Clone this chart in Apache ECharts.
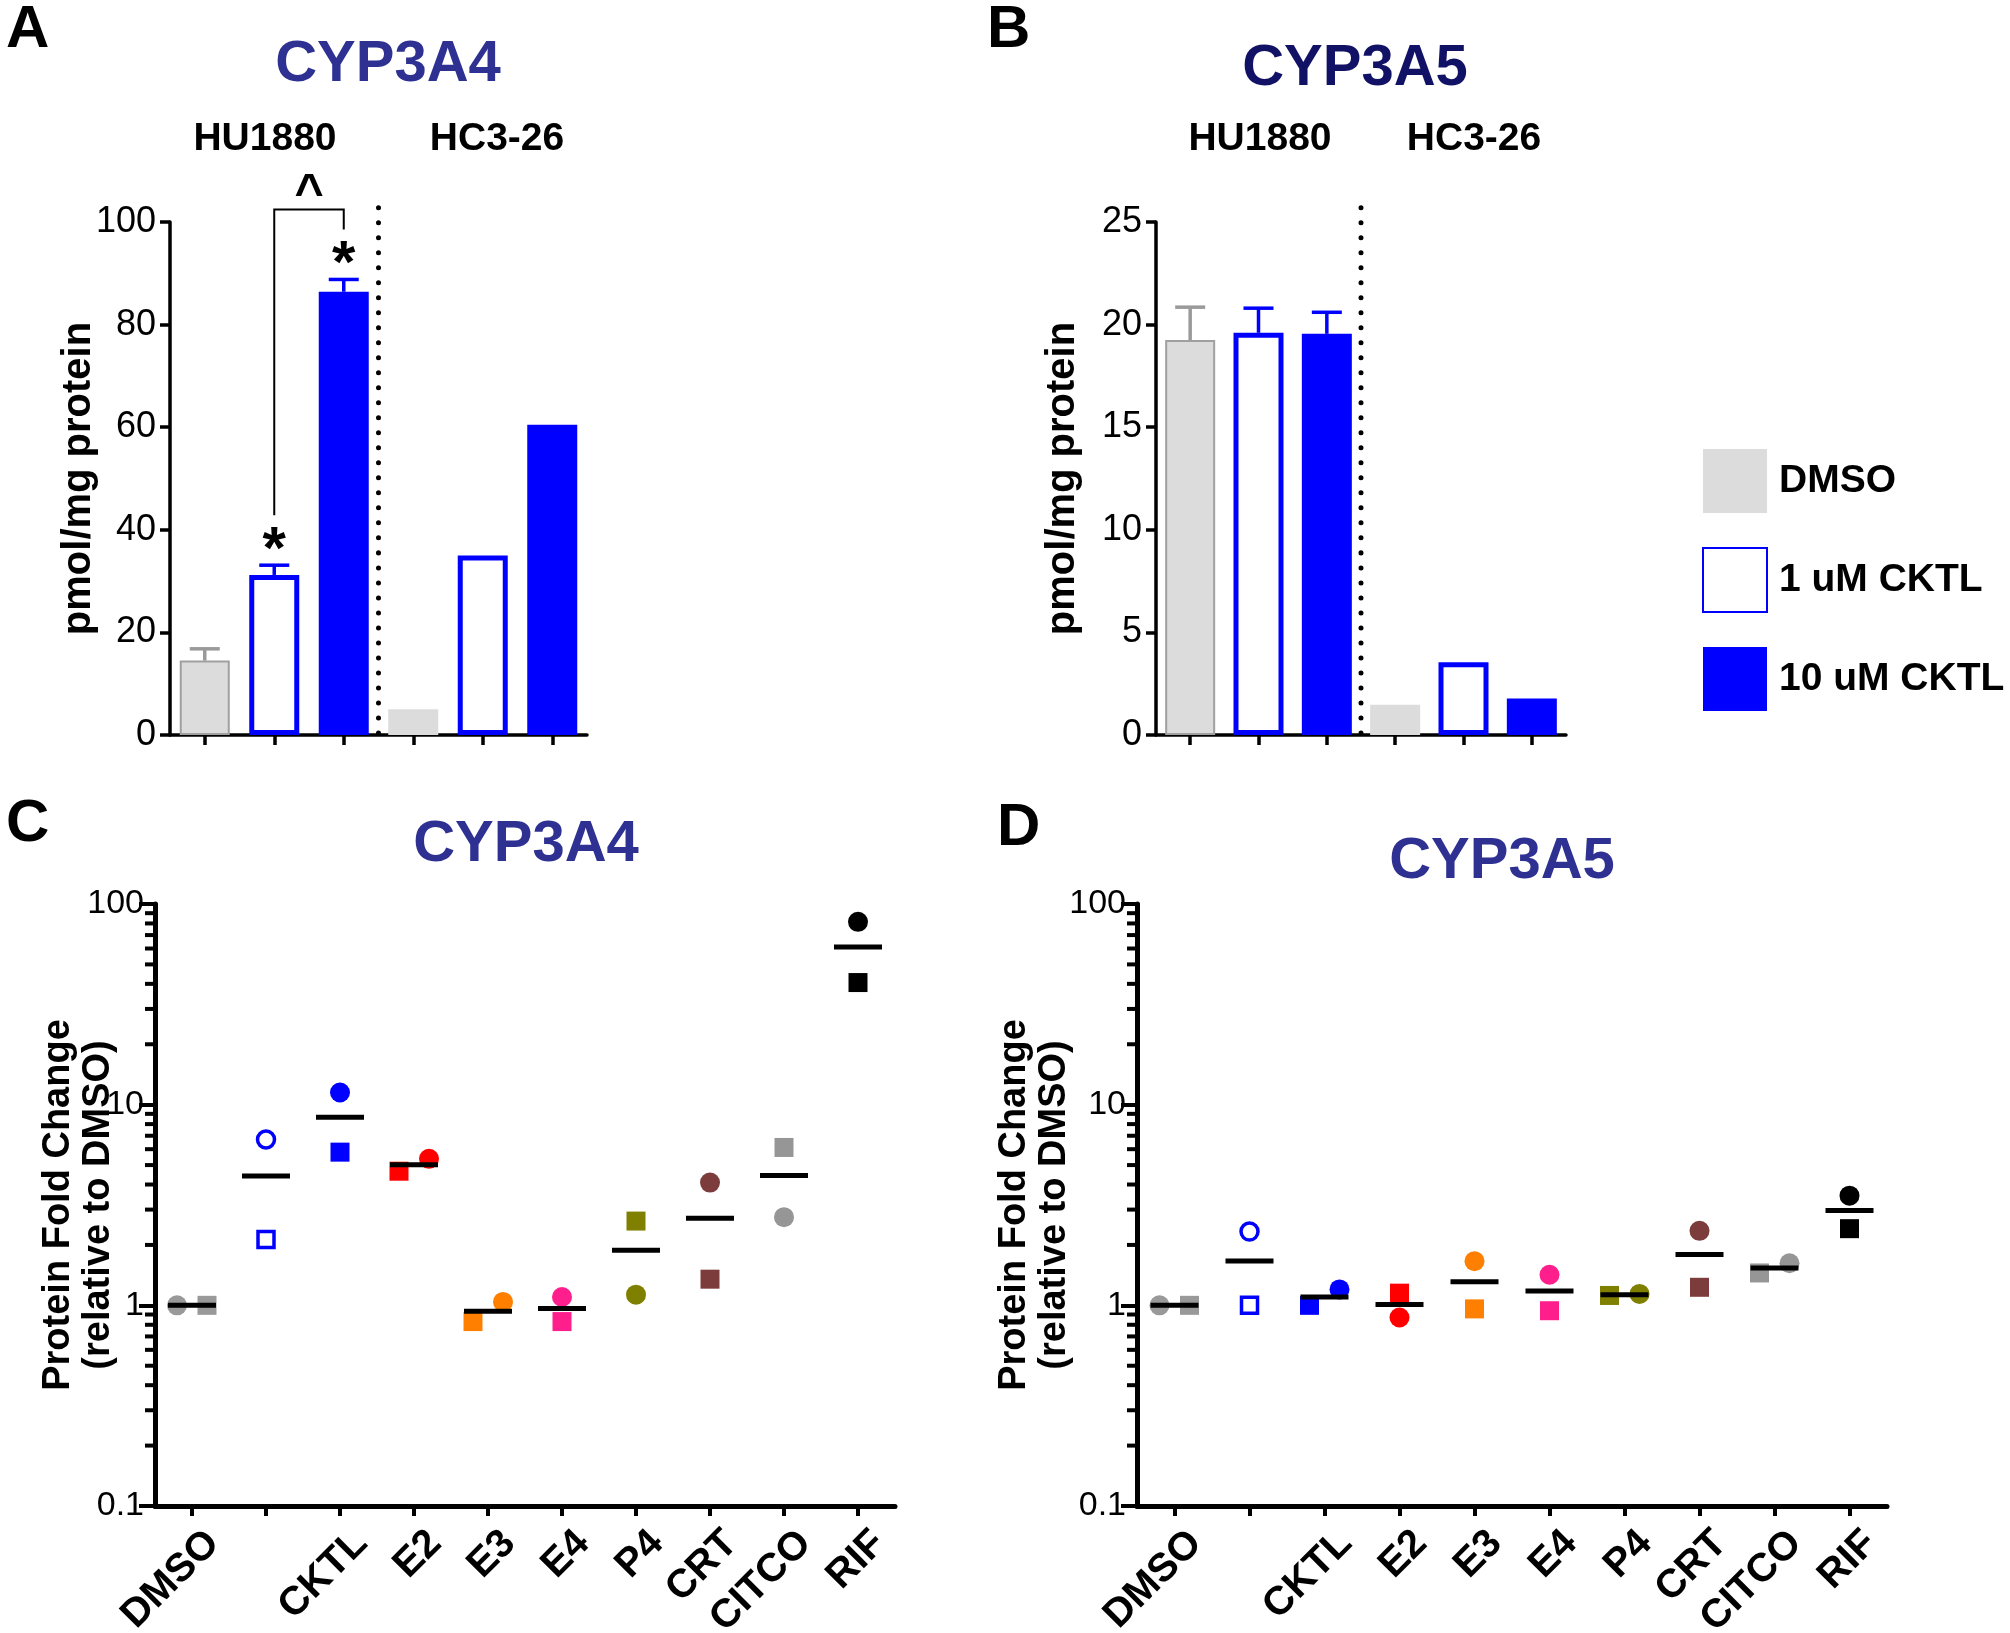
<!DOCTYPE html>
<html><head><meta charset="utf-8">
<script src="https://cdn.jsdelivr.net/npm/echarts@6/dist/echarts.min.js"></script>
<style>html,body{margin:0;padding:0;background:#fff}#chart{width:2010px;height:1633px}</style>
</head><body><div id="chart"></div>
<script>
// ---------------- data ----------------
const treatments = ['DMSO', '1 uM CKTL', '10 uM CKTL'];
const cellLines = ['HU1880', 'HC3-26'];
const barCategories = ['HU1880 DMSO', 'HU1880 1 uM CKTL', 'HU1880 10 uM CKTL',
                       'HC3-26 DMSO', 'HC3-26 1 uM CKTL', 'HC3-26 10 uM CKTL'];
const barTreatment = [0, 1, 2, 0, 1, 2];
const cyp3a4Mean = [14.5, 31.2, 86.4, 5.0, 35.0, 60.5];
const cyp3a4Err  = [2.3, 1.9, 2.4, 0, 0, 0];
const cyp3a4Sig  = ['', '*', '*', '', '', ''];
const cyp3a4Compare = [[1, 2, '^']];
const cyp3a5Mean = [19.25, 19.6, 19.55, 1.47, 3.55, 1.78];
const cyp3a5Err  = [1.6, 1.2, 1.05, 0, 0, 0];
const cyp3a5Sig  = ['', '', '', '', '', ''];

const foldCategories = ['DMSO', '1 uM CKTL', '10 uM CKTL', 'E2', 'E3', 'E4', 'P4', 'CRT', 'CITCO', 'RIF'];
const foldTickLabels = ['DMSO', '', 'CKTL', 'E2', 'E3', 'E4', 'P4', 'CRT', 'CITCO', 'RIF'];
const logTickLabels = ['0.1', '1', '10', '100'];
const cyp3a4Circle = [1.0, 6.7, 11.5, 5.37, 1.04, 1.10, 1.13, 4.09, 2.75, 81.5];
const cyp3a4Square = [1.0, 2.13, 5.8, 4.66, 0.83, 0.83, 2.63, 1.35, 6.12, 40.6];
const cyp3a5Circle = [1.0, 2.33, 1.2, 0.87, 1.66, 1.42, 1.14, 2.35, 1.62, 3.52];
const cyp3a5Square = [1.0, 1.0, 1.0, 1.15, 0.96, 0.94, 1.12, 1.23, 1.45, 2.41];

// ---------------- styles ----------------
const FONT = 'Liberation Sans, Arial, Helvetica, sans-serif';
const BLUE = '#0000ff';
const treatmentStyles = [
  { color: '#dcdcdc', borderColor: '#a0a0a0', borderWidth: 2 },
  { color: '#ffffff', borderColor: BLUE, borderWidth: 5 },
  { color: BLUE }
];
const errorColors = ['#9a9a9a', BLUE, BLUE];
const pointColors = ['#999999', BLUE, BLUE, '#ff0000', '#ff8000', '#ff1f8c', '#808000', '#7d3c3c', '#969696', '#000000'];
const pointHollow = [false, true, false, false, false, false, false, false, false, false];

// minor tick values on the log axes (2..9 in each decade)
const minorTickValues = [];
[0.1, 1, 10].forEach(d => { for (let k = 2; k <= 9; k++) minorTickValues.push(+(d * k).toPrecision(3)); });

function txt(x, y, text, size, color, align, weight) {
  return { type: 'text', x: x, y: y, silent: true,
    style: { text: text, fill: color || '#000', fontSize: size, fontWeight: weight || 'bold', fontFamily: FONT,
      align: align || 'center', textAlign: align || 'center', verticalAlign: 'middle', textVerticalAlign: 'middle' } };
}

function barXAxis(g) {
  return { type: 'category', gridIndex: g, data: barCategories,
    axisLine: { show: true, lineStyle: { color: '#000', width: 3.5 } },
    axisTick: { show: true, alignWithLabel: true, interval: 0, length: 10, lineStyle: { color: '#000', width: 3.5 } },
    axisLabel: { show: false }, splitLine: { show: false } };
}
function barYAxis(g, max, interval, gap) {
  return { type: 'value', gridIndex: g, min: 0, max: max, interval: interval,
    name: 'pmol/mg protein', nameLocation: 'middle', nameGap: gap, nameRotate: 90, nameMoveOverlap: false,
    nameTextStyle: { fontSize: 40, fontWeight: 'bold', color: '#000', fontFamily: FONT },
    axisLine: { show: true, lineStyle: { color: '#000', width: 3.5 } },
    axisTick: { show: true, length: 10, lineStyle: { color: '#000', width: 3.5 } },
    axisLabel: { fontSize: 36, color: '#000', margin: 14, fontFamily: FONT },
    splitLine: { show: false } };
}
function foldXAxis(g) {
  return { type: 'category', gridIndex: g, data: foldCategories,
    axisLine: { show: true, lineStyle: { color: '#000', width: 5 } },
    axisTick: { show: true, alignWithLabel: true, interval: 0, length: 10, lineStyle: { color: '#000', width: 4 } },
    axisLabel: { interval: 0, rotate: 45, fontSize: 40, fontWeight: 'bold', color: '#000', margin: 10, fontFamily: FONT,
      verticalAlign: 'top', lineHeight: 60, formatter: (v, i) => foldTickLabels[i] },
    splitLine: { show: false } };
}
function foldYAxis(g, gap) {
  return { type: 'log', gridIndex: g, logBase: 10, min: 0.1, max: 100,
    name: 'Protein Fold Change\n(relative to DMSO)', nameLocation: 'middle', nameGap: gap, nameRotate: 90, nameMoveOverlap: false,
    nameTextStyle: { fontSize: 38, fontWeight: 'bold', color: '#000', fontFamily: FONT, lineHeight: 40 },
    axisLine: { show: true, lineStyle: { color: '#000', width: 5 } },
    axisTick: { show: true, length: 16, lineStyle: { color: '#000', width: 4 } },
    axisLabel: { fontSize: 34, color: '#000', margin: 11, fontFamily: FONT,
      formatter: v => { const k = Math.round(Math.log10(v)) + 1; return logTickLabels[k] !== undefined ? logTickLabels[k] : String(v); } },
    minorTick: { show: false }, splitLine: { show: false } };
}

function barSeries(g, means, errs) {
  return treatments.map((t, ti) => ({
    type: 'bar', name: t, xAxisIndex: g, yAxisIndex: g, barWidth: 50, barGap: '-100%', silent: true,
    itemStyle: treatmentStyles[ti],
    data: means.map((v, i) => {
      if (barTreatment[i] !== ti) return '-';
      if (ti === 0 && errs[i] === 0) return { value: v, itemStyle: { borderWidth: 0 } };
      return v;
    })
  }));
}

function errorSeries(g, means, errs, sigs) {
  return { type: 'custom', xAxisIndex: g, yAxisIndex: g, silent: true, z: 5, clip: false,
    data: barCategories.map((c, i) => [i, means[i], errs[i]]),
    renderItem: (params, api) => {
      const i = api.value(0);
      const top = api.coord([i, means[i]]);
      const cap = api.coord([i, means[i] + errs[i]]);
      const col = errorColors[barTreatment[i]];
      const ch = [];
      if (errs[i] > 0) {
        ch.push({ type: 'line', shape: { x1: top[0], y1: top[1], x2: cap[0], y2: cap[1] }, style: { stroke: col, lineWidth: 3.5 } });
        ch.push({ type: 'line', shape: { x1: cap[0] - 15, y1: cap[1], x2: cap[0] + 15, y2: cap[1] }, style: { stroke: col, lineWidth: 3.5 } });
      }
      if (sigs[i]) {
        ch.push({ type: 'text', x: cap[0], y: cap[1] - 14,
          style: { text: sigs[i], fill: '#000', fontSize: 60, fontWeight: 'bold', fontFamily: FONT,
            align: 'center', textAlign: 'center', verticalAlign: 'middle', textVerticalAlign: 'middle' } });
      }
      return { type: 'group', children: ch };
    } };
}

function separatorSeries(g, means, errs, compares) {
  return { type: 'custom', xAxisIndex: g, yAxisIndex: g, silent: true, z: 6, clip: false,
    data: [[0, 0]],
    renderItem: (params, api) => {
      const cs = params.coordSys;
      const a = api.coord([2, 0]), b = api.coord([3, 0]);
      const xm = (a[0] + b[0]) / 2;
      const ch = [{ type: 'line', shape: { x1: xm, y1: cs.y + cs.height - 2, x2: xm, y2: cs.y - 22 },
        style: { stroke: '#000', lineWidth: 5, lineDash: [0.01, 15], lineCap: 'round' } }];
      (compares || []).forEach(cmp => {
        const f = cmp[0], t = cmp[1];
        const c1 = api.coord([f, means[f] + errs[f]]);
        const c2 = api.coord([t, means[t] + errs[t]]);
        const l1 = c1[1] - 50, l2 = c2[1] - 50;
        const top = Math.min(l1, l2) - 20;
        ch.push({ type: 'polyline', shape: { points: [[c1[0], l1], [c1[0], top], [c2[0], top], [c2[0], l2]] },
          style: { stroke: '#000', lineWidth: 2, fill: null } });
        ch.push({ type: 'text', x: (c1[0] + c2[0]) / 2, y: top - 14,
          style: { text: cmp[2], fill: '#000', fontSize: 50, fontWeight: 'bold', fontFamily: FONT,
            align: 'center', textAlign: 'center', verticalAlign: 'middle', textVerticalAlign: 'middle' } });
      });
      return { type: 'group', children: ch };
    } };
}

function dodge(i, own, other, isCircle) {
  const d = Math.log10(own[i]) - Math.log10(other[i]);
  if (Math.abs(d) >= 0.11) return 0;
  if (d === 0) return isCircle ? -15 : 15;
  return d < 0 ? -15 : 15;
}

function pointSeries(g, own, other, isCircle) {
  return { type: 'scatter', xAxisIndex: g, yAxisIndex: g, silent: true, z: 3,
    symbol: isCircle ? 'circle' : 'rect',
    data: own.map((v, i) => ({
      value: [i, v],
      symbolOffset: [dodge(i, own, other, isCircle), 0],
      symbolSize: pointHollow[i] ? (isCircle ? 17 : 16) : (isCircle ? 20 : 19),
      itemStyle: pointHollow[i] ? { color: '#ffffff', borderColor: pointColors[i], borderWidth: 3.5, opacity: 1 }
                                : { color: pointColors[i], borderWidth: 0, opacity: 1 }
    })) };
}

function meanSeries(g, c, s) {
  return { type: 'custom', xAxisIndex: g, yAxisIndex: g, silent: true, z: 4,
    data: foldCategories.map((n, i) => [i, (c[i] + s[i]) / 2]),
    renderItem: (params, api) => {
      const p = api.coord([api.value(0), api.value(1)]);
      return { type: 'line', shape: { x1: p[0] - 24, y1: p[1], x2: p[0] + 24, y2: p[1] }, style: { stroke: '#000', lineWidth: 5 } };
    } };
}

function minorTickSeries(g) {
  return { type: 'custom', xAxisIndex: g, yAxisIndex: g, silent: true, z: 4, clip: false,
    data: minorTickValues.map(v => [0, v]),
    renderItem: (params, api) => {
      const y = api.coord([0, api.value(1)])[1];
      const x = params.coordSys.x;
      return { type: 'line', shape: { x1: x - 10, y1: y, x2: x, y2: y }, style: { stroke: '#000', lineWidth: 4 } };
    } };
}

const option = {
  animation: false,
  backgroundColor: '#ffffff',
  textStyle: { fontFamily: FONT },
  grid: [
    { left: 170, top: 222, width: 417, height: 513, containLabel: false, outerBoundsMode: 'none' },
    { left: 1156, top: 222, width: 410, height: 513, containLabel: false, outerBoundsMode: 'none' },
    { left: 155, top: 904, width: 740, height: 602, containLabel: false, outerBoundsMode: 'none' },
    { left: 1137, top: 904, width: 750, height: 602, containLabel: false, outerBoundsMode: 'none' }
  ],
  xAxis: [barXAxis(0), barXAxis(1), foldXAxis(2), foldXAxis(3)],
  yAxis: [barYAxis(0, 100, 20, 71), barYAxis(1, 25, 5, 73), foldYAxis(2, 36), foldYAxis(3, 62)],
  legend: {
    orient: 'vertical', left: 1702, top: 449, padding: 0, itemWidth: 64, itemHeight: 64, itemGap: 34,
    icon: 'rect', selectedMode: false,
    data: [{ name: 'DMSO', itemStyle: { borderWidth: 0 } }, { name: '1 uM CKTL' }, { name: '10 uM CKTL' }],
    textStyle: { fontSize: 39, fontWeight: 'bold', color: '#000', fontFamily: FONT, padding: [8, 0, 0, 7] }
  },
  graphic: [
    txt(6, 30, 'A', 60, '#000', 'left'),
    txt(987, 30, 'B', 60, '#000', 'left'),
    txt(6, 824, 'C', 60, '#000', 'left'),
    txt(997, 828, 'D', 60, '#000', 'left'),
    txt(388, 65, 'CYP3A4', 58, '#2e3192'),
    txt(1355, 69, 'CYP3A5', 58, '#111166'),
    txt(526, 845, 'CYP3A4', 58, '#2e3192'),
    txt(1502, 862, 'CYP3A5', 58, '#2e3192'),
    txt(265, 139, cellLines[0], 39),
    txt(497, 139, cellLines[1], 39),
    txt(1260, 139, cellLines[0], 39),
    txt(1474, 139, cellLines[1], 39)
  ],
  series: [].concat(
    barSeries(0, cyp3a4Mean, cyp3a4Err),
    [errorSeries(0, cyp3a4Mean, cyp3a4Err, cyp3a4Sig), separatorSeries(0, cyp3a4Mean, cyp3a4Err, cyp3a4Compare)],
    barSeries(1, cyp3a5Mean, cyp3a5Err),
    [errorSeries(1, cyp3a5Mean, cyp3a5Err, cyp3a5Sig), separatorSeries(1, cyp3a5Mean, cyp3a5Err, [])],
    [pointSeries(2, cyp3a4Circle, cyp3a4Square, true), pointSeries(2, cyp3a4Square, cyp3a4Circle, false),
     meanSeries(2, cyp3a4Circle, cyp3a4Square), minorTickSeries(2)],
    [pointSeries(3, cyp3a5Circle, cyp3a5Square, true), pointSeries(3, cyp3a5Square, cyp3a5Circle, false),
     meanSeries(3, cyp3a5Circle, cyp3a5Square), minorTickSeries(3)]
  )
};

const chart = echarts.init(document.getElementById('chart'), null, { renderer: 'canvas', width: 2010, height: 1633 });
chart.setOption(option);
</script>
</body></html>
